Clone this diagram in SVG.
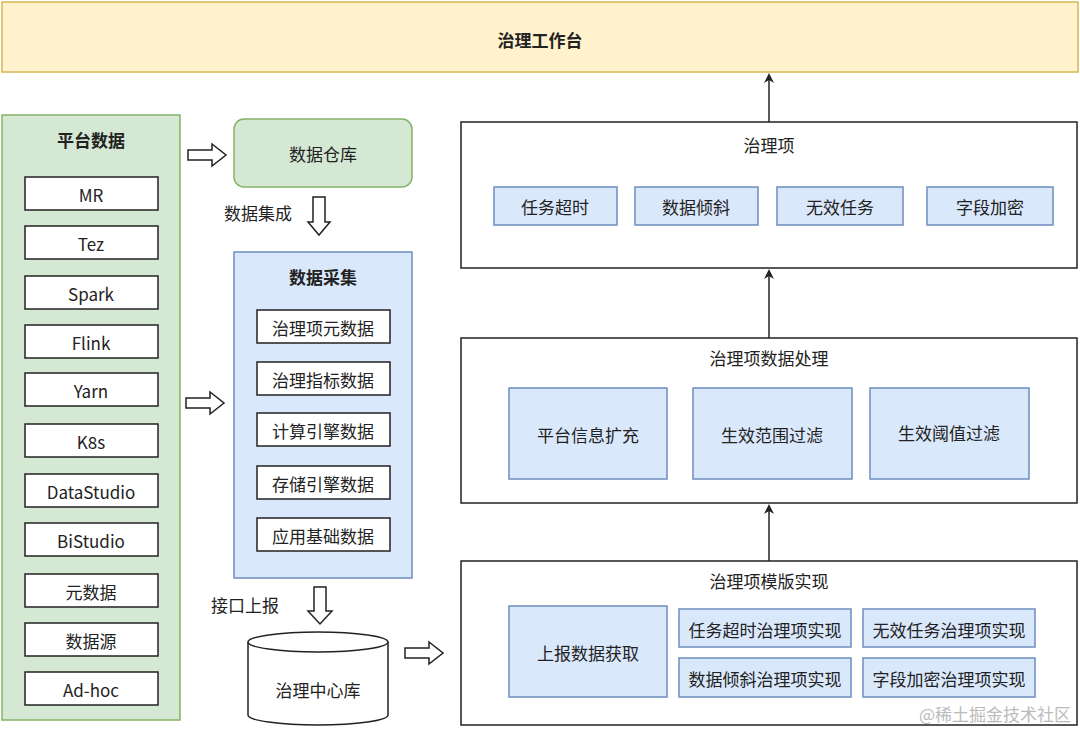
<svg xmlns="http://www.w3.org/2000/svg" width="1080" height="729" viewBox="0 0 1080 729">
<style>
text{font-family:"Noto Sans CJK SC","Liberation Sans",sans-serif;fill:#222;text-anchor:middle;dominant-baseline:central;font-size:17px}
.b{font-weight:bold}
.w{fill:#fff;stroke:#222;stroke-width:1.5}
.bl{fill:#dae8fc;stroke:#6c8ebf;stroke-width:1.5}
.g{fill:#d5e8d4;stroke:#82b366;stroke-width:1.5}
.c{fill:#fff;stroke:#222;stroke-width:1.5}
.ln{stroke:#222;stroke-width:1.5;fill:none}
</style>
<defs><marker id="ah" markerWidth="10" markerHeight="10" refX="8" refY="5" orient="auto" markerUnits="userSpaceOnUse"><path d="M0,0 L10,5 L0,10 L3,5 Z" fill="#222"/></marker></defs>
<rect width="1080" height="729" fill="#fff"/>
<g id="top"><rect x="2" y="2" width="1076" height="70" fill="#fff2cc" stroke="#d6b656" stroke-width="1.5"/><text x="540" y="39" class="b" font-size="20">治理工作台</text></g>
<g id="platform"><rect class="g" x="2" y="115" width="178" height="605"/><text x="91" y="139" class="b" font-size="22">平台数据</text>
<g font-size="16">
<rect class="w" x="25" y="177" width="133" height="33"/><text x="91" y="194">MR</text>
<rect class="w" x="25" y="226" width="133" height="33"/><text x="91" y="243">Tez</text>
<rect class="w" x="25" y="276" width="133" height="33"/><text x="91" y="293">Spark</text>
<rect class="w" x="25" y="325" width="133" height="33"/><text x="91" y="342">Flink</text>
<rect class="w" x="25" y="373" width="133" height="33"/><text x="91" y="390">Yarn</text>
<rect class="w" x="25" y="424" width="133" height="33"/><text x="91" y="441">K8s</text>
<rect class="w" x="25" y="474" width="133" height="33"/><text x="91" y="491">DataStudio</text>
<rect class="w" x="25" y="523" width="133" height="33"/><text x="91" y="540">BiStudio</text>
<rect class="w" x="25" y="574" width="133" height="33"/><text x="91" y="591">元数据</text>
<rect class="w" x="25" y="623" width="133" height="33"/><text x="91" y="640">数据源</text>
<rect class="w" x="25" y="672" width="133" height="33"/><text x="91" y="689">Ad-hoc</text>
</g></g>
<g id="dw"><rect class="g" x="234" y="119" width="178" height="68" rx="10"/><text x="323" y="153" font-size="21">数据仓库</text></g>
<g id="collect"><rect class="bl" x="234" y="252" width="178" height="326"/><text x="323" y="276" class="b" font-size="21">数据采集</text>
<g font-size="16">
<rect class="w" x="257" y="310" width="133" height="33"/><text x="323" y="327">治理项元数据</text>
<rect class="w" x="257" y="362" width="133" height="33"/><text x="323" y="379">治理指标数据</text>
<rect class="w" x="257" y="413" width="133" height="33"/><text x="323" y="430">计算引擎数据</text>
<rect class="w" x="257" y="466" width="133" height="33"/><text x="323" y="483">存储引擎数据</text>
<rect class="w" x="257" y="518" width="133" height="33"/><text x="323" y="535">应用基础数据</text>
</g></g>
<g id="center"><path class="c" d="M248,642 A70,10 0 0 1 388,642 L388,715 A70,10 0 0 1 248,715 Z"/><path class="ln" d="M248,642 A70,10 0 0 0 388,642"/><text x="318" y="689" font-size="17">治理中心库</text></g>
<g id="items"><rect class="w" x="461" y="122" width="616" height="146"/><text x="769" y="144" font-size="16">治理项</text>
<rect class="bl" x="494" y="187" width="123" height="38"/><text x="555" y="206">任务超时</text>
<rect class="bl" x="635" y="187" width="123" height="38"/><text x="696" y="206">数据倾斜</text>
<rect class="bl" x="777" y="187" width="126" height="38"/><text x="840" y="206">无效任务</text>
<rect class="bl" x="927" y="187" width="126" height="38"/><text x="990" y="206">字段加密</text></g>
<g id="process"><rect class="w" x="461" y="338" width="616" height="165"/><text x="769" y="357" font-size="16">治理项数据处理</text>
<rect class="bl" x="509" y="388" width="158" height="91"/><text x="588" y="434">平台信息扩充</text>
<rect class="bl" x="693" y="388" width="159" height="91"/><text x="772" y="434">生效范围过滤</text>
<rect class="bl" x="870" y="388" width="159" height="91"/><text x="949" y="432">生效阈值过滤</text></g>
<g id="template"><rect class="w" x="461" y="561" width="616" height="164"/><text x="769" y="580" font-size="16">治理项模版实现</text>
<rect class="bl" x="509" y="606" width="158" height="91"/><text x="588" y="652">上报数据获取</text>
<rect class="bl" x="679" y="609" width="172" height="38"/><text x="765" y="629">任务超时治理项实现</text>
<rect class="bl" x="863" y="609" width="172" height="38"/><text x="949" y="629">无效任务治理项实现</text>
<rect class="bl" x="679" y="658" width="172" height="39"/><text x="765" y="678">数据倾斜治理项实现</text>
<rect class="bl" x="863" y="658" width="172" height="39"/><text x="949" y="678">字段加密治理项实现</text></g>
<g id="connectors">
<path class="c" d="M188,150 H212 V144 L226,155 L212,166 V160 H188 Z"/>
<path class="c" d="M186,398 H210 V392 L224,403 L210,414 V408 H186 Z"/>
<path class="c" d="M405,648 H429 V642 L443,653 L429,664 V658 H405 Z"/>
<path class="c" d="M313,197 H325 V222 H330 L319,235 L308,222 H313 Z"/>
<path class="c" d="M314,587 H326 V611 H332 L320,624 L308,611 H314 Z"/>
<text x="258" y="212" font-size="16">数据集成</text>
<text x="245" y="604" font-size="16">接口上报</text>
<line class="ln" x1="769" y1="122" x2="769" y2="75" marker-end="url(#ah)"/>
<line class="ln" x1="769" y1="338" x2="769" y2="271" marker-end="url(#ah)"/>
<line class="ln" x1="769" y1="561" x2="769" y2="506" marker-end="url(#ah)"/>
</g>
<text x="995" y="713" font-size="14" style="fill:#bbb">@稀土掘金技术社区</text>
</svg>
